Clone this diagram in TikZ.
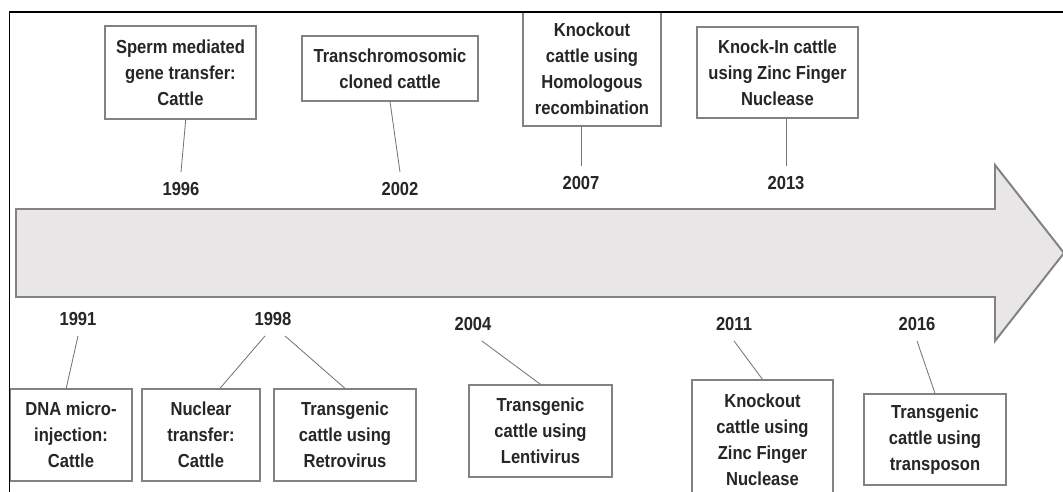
\documentclass[tikz,border=0pt]{standalone}
\usepackage{fontspec}
\newfontfamily\tlfont{Liberation Sans}[FakeStretch=0.88]
\definecolor{arrowfill}{RGB}{232,230,231}
\definecolor{edgegray}{RGB}{130,130,130}
\definecolor{inkgray}{RGB}{38,38,38}
\tikzset{
	evbox/.style={draw=edgegray, line width=0.9pt, fill=white, align=center, inner sep=0pt,
		text=inkgray, font=\tlfont\bfseries\fontsize{13.4}{18.5}\selectfont},
	yearlbl/.style={inner sep=0.25cm, text=inkgray, font=\tlfont\bfseries\fontsize{13.4}{18.5}\selectfont},
	tick/.style={draw=edgegray!90!black, line width=0.6pt}
}

\begin{document}
\begin{tikzpicture}
			%%%%% START %%%%%
			\useasboundingbox (0, 0) rectangle (26.575, 12.3);
			
			\draw[line width=1.4pt, draw=edgegray, fill=arrowfill] (0.4, 7.075) -- (24.875, 7.075) -- (24.875, 8.175) -- (26.6, 5.975) -- (24.875, 3.775) -- (24.875, 4.875) -- (0.4, 4.875) -- cycle;
			
			\node[evbox, minimum width=3.775cm, minimum height=2.325cm] (sperm) at (4.513, 10.488) {Sperm mediated\\gene transfer:\\Cattle};
			\node[evbox, minimum width=4.4cm, minimum height=1.625cm] (trans) at (9.75, 10.5875) {Transchromosomic\\cloned cattle};
			\node[evbox, minimum width=3.45cm, minimum height=2.85cm] (khr) at (14.8, 10.575) {Knockout\\cattle using\\Homologous\\recombination};
			\node[evbox, minimum width=4.025cm, minimum height=2.275cm] (kin) at (19.4375, 10.4875) {Knock-In cattle\\using Zinc Finger\\Nuclease};
			
			\node[yearlbl] (y1996) at (4.525, 7.575) {1996};
			\node[yearlbl] (y2002) at (10.0, 7.575) {2002};
			\node[yearlbl] (y2007) at (14.525, 7.725) {2007};
			\node[yearlbl] (y2013) at (19.65, 7.725) {2013};
			
			\draw[tick] ([xshift=0.13cm]sperm.south) -- (y1996.north);
			\draw[tick] (trans.south) -- (y2002.north);
			\draw[tick] (khr.south -| y2007) -- (y2007.north);
			\draw[tick] (kin.south -| y2013) -- (y2013.north);
			
			\node[yearlbl] (y1991) at (1.95, 4.325) {1991};
			\node[yearlbl] (y1998) at (6.825, 4.325) {1998};
			\node[yearlbl] (y2004) at (11.825, 4.2) {2004};
			\node[yearlbl] (y2011) at (18.35, 4.2) {2011};
			\node[yearlbl] (y2016) at (22.925, 4.2) {2016};
			
			\node[evbox, minimum width=3.05cm, minimum height=2.3cm] (dna) at (1.775, 1.425) {DNA micro-\\injection:\\Cattle};
			\node[evbox, minimum width=2.95cm, minimum height=2.3cm] (nuc) at (5.025, 1.425) {Nuclear\\transfer:\\Cattle};
			\node[evbox, minimum width=3.55cm, minimum height=2.3cm] (retro) at (8.625, 1.425) {Transgenic\\cattle using\\Retrovirus};
			\node[evbox, minimum width=3.575cm, minimum height=2.3cm] (lenti) at (13.5125, 1.525) {Transgenic\\cattle using\\Lentivirus};
			\node[evbox, minimum width=3.525cm, minimum height=2.975cm] (zfn) at (19.0625, 1.3125) {Knockout\\cattle using\\Zinc Finger\\Nuclease};
			\node[evbox, minimum width=3.55cm, minimum height=2.275cm] (tpn) at (23.375, 1.3125) {Transgenic\\cattle using\\transposon};
			
			\draw[tick] (y1991.south) -- ([xshift=-0.12cm]dna.north);
			\draw[tick] ([xshift=-0.2cm]y1998.south) -- ([xshift=0.475cm]nuc.north);
			\draw[tick] ([xshift=0.3cm]y1998.south) -- (retro.north);
			\draw[tick] ([xshift=0.22cm]y2004.south) -- (lenti.north);
			\draw[tick] (y2011.south) -- (zfn.north);
			\draw[tick] (y2016.south) -- (tpn.north);
			
			\draw[line width=0.8pt] (0.2375, 0) -- (0.2375, 12.0) -- (26.575, 12.0);
			%%%%% END %%%%%
		\end{tikzpicture}
\end{document}
